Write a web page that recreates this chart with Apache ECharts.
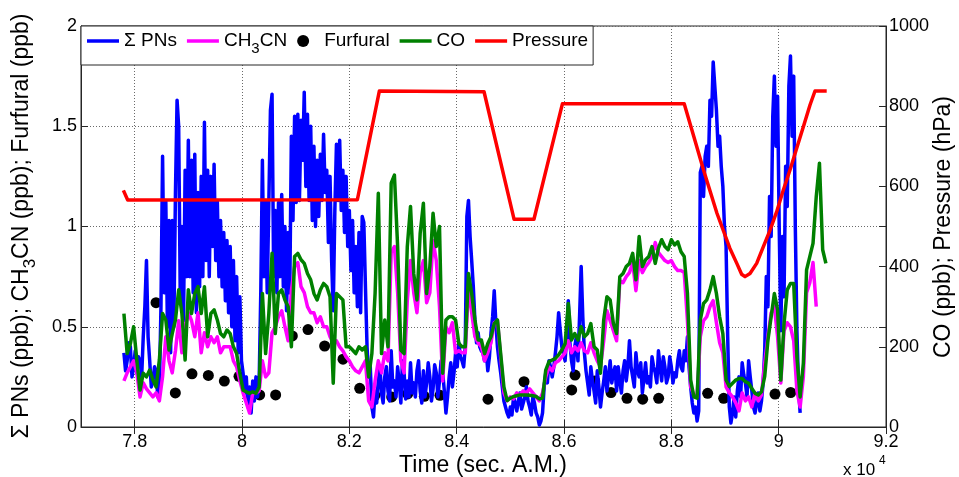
<!DOCTYPE html>
<html>
<head>
<meta charset="utf-8">
<script src="https://cdn.jsdelivr.net/npm/echarts@6/dist/echarts.min.js"></script>
<style>
  html, body { margin: 0; padding: 0; background: #fff; }
  #chart { width: 959px; height: 477px; }
</style>
</head>
<body>
<div id="chart"></div>
<script>
// Records start at 77800 s; Σ PNs every 30 s, CH3CN and CO every 60 s
const T0 = 77800;
const DT_PNS = 30;
const DT = 60;

// Σ PNs (ppb), 30-s values
const pnsPpb = [
  0.37, 0.28, 0.33, 0.42, 0.40, 0.25, 0.30, 0.38, 0.27, 0.35, 0.33, 0.25, 0.45, 0.60, 0.83, 0.45, 0.33, 0.20, 0.23, 0.30, 0.28, 0.15, 0.18, 0.60,
  1.35, 0.67, 1.13, 0.50, 1.03, 0.37, 1.03, 0.50, 1.17, 1.63, 1.50, 0.63, 1.00, 0.53, 1.28, 0.75, 1.43, 0.75, 1.33, 0.67, 1.36, 0.57,
  1.17, 0.70, 1.25, 0.75, 1.52, 0.83, 1.28, 0.75, 1.25, 0.90, 1.31, 0.83, 1.13, 0.75, 1.03, 0.70, 0.97, 0.63, 0.93, 0.57, 0.90, 0.50, 0.83, 0.43, 0.75, 0.37,
  0.65, 0.33, 0.27, 0.17, 0.25, 0.10, 0.20, 0.07, 0.23, 0.13, 0.25, 0.15, 0.23, 0.67, 1.33, 0.75, 1.13, 0.67, 1.12, 1.58,
  1.66, 0.75, 1.08, 0.67, 1.12, 0.75, 1.16, 0.70, 1.00, 0.58, 0.97, 0.67, 1.45, 1.03, 1.55, 1.12, 1.56, 1.13, 1.53, 1.33,
  1.67, 1.20, 1.56, 1.13, 1.50, 1.03, 1.40, 1.00, 1.33, 1.05, 1.36, 1.13, 1.46, 1.17, 1.28, 0.92, 1.25, 0.83, 0.58, 1.08,
  1.41, 1.13, 1.43, 1.08, 1.28, 0.97, 1.25, 0.90, 1.08, 0.78, 1.03, 0.67, 0.90, 0.60, 0.97, 0.57,
  1.05, 1.02, 0.70, 0.40, 0.25, 0.30, 0.10, 0.05, 0.18, 0.12, 0.23, 0.30, 0.17, 0.12, 0.25, 0.30, 0.18, 0.13, 0.38, 0.20,
  0.23, 0.15, 0.30, 0.22, 0.12, 0.33, 0.27, 0.14, 0.23, 0.15, 0.32, 0.17, 0.22, 0.15, 0.28, 0.33, 0.18, 0.12, 0.28, 0.15,
  0.22, 0.32, 0.25, 0.13, 0.19, 0.31, 0.27, 0.15, 0.23, 0.33, 0.27, 0.18, 0.07, 0.15, 0.25, 0.32, 0.20, 0.27, 0.37, 0.30,
  0.42, 0.35, 0.33, 0.30, 0.40, 1.05, 1.13, 0.95, 0.83, 0.70, 0.53, 0.42, 0.47, 0.40, 0.38, 0.37,
  0.33, 0.38, 0.28, 0.35, 0.47, 0.55, 0.68, 0.52, 0.40, 0.33, 0.27, 0.20, 0.13, 0.10, 0.07, 0.05, 0.10, 0.06, 0.15, 0.12,
  0.08, 0.13, 0.17, 0.09, 0.12, 0.15, 0.20, 0.13, 0.10, 0.06, 0.15, 0.12, 0.07, 0.05, 0.01, 0.03, 0.07, 0.20, 0.27, 0.22,
  0.33, 0.30, 0.25, 0.30, 0.37, 0.45, 0.57, 0.48, 0.40, 0.37, 0.33, 0.45, 0.63, 0.42, 0.33, 0.28, 0.40, 0.45, 0.33, 0.55,
  0.80, 0.55, 0.37, 0.28, 0.22, 0.16, 0.30, 0.23, 0.18, 0.12, 0.28, 0.20, 0.10, 0.17, 0.23, 0.30,
  0.18, 0.25, 0.33, 0.22, 0.27, 0.30, 0.18, 0.30, 0.23, 0.17, 0.28, 0.33, 0.23, 0.30, 0.43, 0.30, 0.25, 0.20, 0.37, 0.28,
  0.25, 0.32, 0.17, 0.24, 0.32, 0.22, 0.25, 0.20, 0.35, 0.30, 0.27, 0.22, 0.38, 0.30, 0.23, 0.35, 0.30, 0.22, 0.25, 0.35,
  0.30, 0.22, 0.27, 0.25, 0.33, 0.38, 0.30, 0.28, 0.38, 0.33, 0.45, 0.30, 0.20, 0.12, 0.07, 0.10, 0.03, 0.08, 1.27, 1.30,
  1.15, 1.35, 1.40, 1.30, 1.63, 1.55, 1.82, 1.70, 1.58, 1.40, 1.45, 1.30, 1.20, 1.00, 0.90, 0.45,
  0.10, 0.02, 0.07, 0.15, 0.05, 0.18, 0.25, 0.15, 0.32, 0.26, 0.22, 0.15, 0.33, 0.25, 0.18, 0.10, 0.07, 0.12, 0.17, 0.08,
  0.13, 0.22, 0.38, 0.75, 0.60, 1.15, 0.95, 1.55, 1.75, 1.40, 1.65, 1.00, 0.48, 0.95, 0.65, 1.30, 1.10, 1.70, 1.85, 1.45,
  1.75, 1.00, 0.48, 0.20, 0.07
];

// CH3CN (ppb), 60-s values
const ch3cnPpb = [
  0.23, 0.27, 0.30, 0.33, 0.27, 0.15, 0.22, 0.19, 0.17, 0.15, 0.17, 0.13, 0.25, 0.45, 0.33, 0.27, 0.38, 0.53, 0.37, 0.50, 0.57, 0.53, 0.45, 0.57, 0.37, 0.47, 0.40, 0.45, 0.42, 0.45, 0.37, 0.40, 0.40, 0.40, 0.33, 0.30,
  0.23, 0.17, 0.12, 0.07, 0.17, 0.17, 0.18, 0.33, 0.25, 0.27, 0.47, 0.50, 0.55, 0.58, 0.50, 0.43, 0.68, 0.80, 0.82, 0.70, 0.67, 0.60, 0.57, 0.57, 0.52, 0.55, 0.50, 0.50, 0.45, 0.42, 0.43, 0.40, 0.38, 0.35, 0.33, 0.30, 0.28, 0.27,
  0.30, 0.33, 0.13, 0.10, 0.23, 0.33, 0.27, 0.37, 0.33, 0.87, 0.90, 0.67, 0.33, 0.27, 0.63, 0.83, 0.67, 0.57, 0.77, 0.83, 0.62, 0.67, 0.93, 0.83, 0.60, 0.23, 0.50, 0.47, 0.52, 0.37, 0.38, 0.37, 0.37, 0.70, 0.57, 0.45, 0.42, 0.40,
  0.33, 0.37, 0.42, 0.52, 0.53, 0.35, 0.17, 0.13, 0.15, 0.14, 0.17, 0.16, 0.18, 0.17, 0.19, 0.17, 0.15, 0.13, 0.17, 0.25, 0.30, 0.28, 0.32, 0.33, 0.35, 0.37, 0.43, 0.37, 0.40, 0.38, 0.42, 0.38, 0.37, 0.42, 0.37, 0.33, 0.30, 0.43,
  0.58, 0.53, 0.48, 0.43, 0.73, 0.72, 0.75, 0.77, 0.82, 0.68, 0.83, 0.77, 0.80, 0.82, 0.85, 0.92, 0.87, 0.85, 0.83, 0.82, 0.83, 0.80, 0.78, 0.78, 0.77, 0.53, 0.20, 0.16, 0.15, 0.45, 0.53, 0.55, 0.60, 0.63, 0.52, 0.42, 0.37, 0.20,
  0.17, 0.15, 0.12, 0.08, 0.17, 0.13, 0.15, 0.10, 0.17, 0.13, 0.16, 0.32, 0.45, 0.57, 0.60, 0.45, 0.22, 0.48, 0.52, 0.50, 0.43, 0.18, 0.10, 0.25, 0.67, 0.72, 0.82, 0.60
];

// CO (ppb), right axis, 60-s values
const coPpb = [
  283, 183, 208, 250, 167, 92, 134, 125, 142, 117, 100, 167, 283, 267, 192, 233, 267, 342, 283, 167, 342, 283, 333, 350, 283, 350, 225, 283, 292, 267, 233, 225, 242, 233, 200, 183,
  134, 92, 88, 84, 88, 84, 100, 333, 183, 283, 433, 233, 333, 342, 317, 300, 200, 425, 433, 417, 408, 383, 367, 333, 317, 342, 358, 350, 325, 109, 333, 325, 317, 200, 200, 192, 183, 200,
  192, 200, 125, 183, 333, 583, 183, 267, 200, 608, 628, 450, 192, 183, 450, 550, 383, 317, 483, 558, 333, 400, 533, 450, 500, 134, 267, 275, 275, 267, 208, 200, 200, 383, 333, 267, 217, 217,
  183, 208, 225, 258, 267, 183, 100, 66, 72, 76, 78, 80, 80, 80, 79, 78, 76, 70, 72, 142, 163, 167, 171, 180, 192, 208, 308, 217, 233, 217, 250, 225, 233, 258, 200, 192, 134, 267,
  325, 317, 258, 233, 375, 383, 400, 408, 433, 367, 475, 400, 417, 425, 450, 408, 446, 467, 450, 442, 467, 454, 462, 437, 425, 333, 117, 75, 72, 267, 308, 317, 342, 375, 333, 275, 233, 117,
  101, 109, 117, 121, 121, 113, 109, 96, 84, 80, 88, 126, 217, 275, 333, 292, 117, 258, 342, 358, 358, 175, 75, 159, 392, 425, 458, 574, 658, 442, 408
];

// Furfural grab samples
const furfuralTime = [78398, 78758, 79068, 79373, 79671, 79944, 80329, 80627, 80938, 81230, 81540, 81882, 82193, 82478, 82789, 83087, 83398, 83689, 84584, 85255, 86143, 86205, 86572, 86876, 87174, 87466, 87764, 88677, 88975, 89932, 90224];
const furfuralPpb  = [0.62, 0.17, 0.265, 0.257, 0.229, 0.253, 0.16, 0.16, 0.454, 0.486, 0.404, 0.338, 0.193, 0.158, 0.15, 0.165, 0.153, 0.158, 0.139, 0.226, 0.185, 0.259, 0.23, 0.172, 0.143, 0.139, 0.143, 0.168, 0.143, 0.164, 0.172];

// Static pressure (hPa), right axis
const pressureTime = [77790, 77870, 82150, 82560, 84510, 85070, 85440, 85970, 88240, 88420, 88600, 88850, 89090, 89220, 89310, 89373, 89466, 89590, 89715, 89840, 89963, 90087, 90211, 90336, 90460, 90584, 90677, 90895];
const pressureHPa  = [590, 566, 567, 838, 836, 518, 518, 806, 806, 724, 641, 533, 446, 408, 381, 375, 383, 408, 450, 491, 537, 591, 641, 695, 749, 803, 838, 838];

// Time axis ticks (s)
const timeTicks = [78000, 80000, 82000, 84000, 86000, 88000, 90000, 92000];

const FONT = "'Liberation Sans', Arial, Helvetica, sans-serif";
const AXIS = '#262626';
const GRID = '#6a6a6a';
const LINE_W = 3.5;
// legend swatch for the line series: a flat bar as thick as the plotted lines
const LINE_ICON = 'path://M0,0H32V3.5H0Z';

const sampled = (vals, dt) => vals.map((v, i) => [T0 + i * dt, v]);
const zipped = (ts, vs) => ts.map((t, i) => [t, vs[i]]);

const lineSeries = (name, data, color, yIdx) => ({
  name, type: 'line', xAxisIndex: 0, yAxisIndex: yIdx, data,
  symbol: 'none', showSymbol: false, silent: true,
  lineStyle: { color, width: LINE_W, join: 'round', opacity: 1 },
  itemStyle: { color, opacity: 1 }
});

const chart = echarts.init(document.getElementById('chart'), null, { renderer: 'canvas' });

chart.setOption({
  animation: false,
  backgroundColor: '#fff',
  grid: { left: 81, right: 73, top: 26, bottom: 50, show: true, borderColor: AXIS, borderWidth: 1, backgroundColor: 'transparent', containLabel: false },
  xAxis: [
    {
      type: 'value', min: 77000, max: 92000, position: 'bottom',
      axisLine: { show: true, onZero: false, lineStyle: { color: AXIS, width: 1 } },
      axisTick: { show: true, inside: true, length: 7, customValues: timeTicks, lineStyle: { color: AXIS } },
      axisLabel: { customValues: timeTicks, formatter: v => String(+(v / 1e4).toFixed(1)), fontSize: 18, fontFamily: FONT, color: '#000', margin: 6 },
      splitLine: { show: true, lineStyle: { color: GRID, type: [1, 2], width: 1 } }
    },
    {
      type: 'value', min: 77000, max: 92000, position: 'top',
      axisLine: { show: false },
      axisTick: { show: true, inside: true, length: 7, customValues: timeTicks, lineStyle: { color: AXIS } },
      axisLabel: { show: false },
      splitLine: { show: false }
    }
  ],
  yAxis: [
    {
      type: 'value', min: 0, max: 2, interval: 0.5, position: 'left',
      axisLine: { show: true, lineStyle: { color: AXIS, width: 1 } },
      axisTick: { show: true, inside: true, length: 7, lineStyle: { color: AXIS } },
      axisLabel: { fontSize: 18, fontFamily: FONT, color: '#000', margin: 4, formatter: v => String(v) },
      splitLine: { show: true, lineStyle: { color: GRID, type: [1, 2], width: 1 } }
    },
    {
      type: 'value', min: 0, max: 1000, interval: 200, position: 'right',
      axisLine: { show: true, lineStyle: { color: AXIS, width: 1 } },
      axisTick: { show: true, inside: true, length: 7, lineStyle: { color: AXIS } },
      axisLabel: { fontSize: 18, fontFamily: FONT, color: '#000', margin: 3, formatter: v => String(v) },
      splitLine: { show: false }
    },
    {
      type: 'value', min: 0, max: 2, interval: 0.5, position: 'right',
      axisLine: { show: false },
      axisTick: { show: true, inside: true, length: 7, lineStyle: { color: AXIS } },
      axisLabel: { show: false },
      splitLine: { show: false }
    }
  ],
  legend: {
    left: 81, top: 26, orient: 'horizontal',
    itemWidth: 32, itemHeight: 12, itemGap: 10,
    padding: [3, 5, 9, 6],
    backgroundColor: '#fff', borderColor: AXIS, borderWidth: 1, borderRadius: 0,
    selectedMode: false,
    data: [
      { name: 'Σ PNs', icon: LINE_ICON, itemStyle: { color: '#0000ff', opacity: 1, borderWidth: 0 } },
      { name: 'CH3CN', icon: LINE_ICON, itemStyle: { color: '#ff00ff', opacity: 1, borderWidth: 0 } },
      { name: 'Furfural', icon: 'circle', itemStyle: { color: '#000', opacity: 1, borderWidth: 0 } },
      { name: 'CO', icon: LINE_ICON, itemStyle: { color: '#008000', opacity: 1, borderWidth: 0 } },
      { name: 'Pressure', icon: LINE_ICON, itemStyle: { color: '#ff0000', opacity: 1, borderWidth: 0 } }
    ],
    formatter: name => name === 'CH3CN' ? '{n|CH}{s|3}{n|CN}' : '{n|' + name + '}',
    textStyle: {
      fontSize: 19, fontFamily: FONT, color: '#000',
      rich: {
        n: { fontSize: 19, lineHeight: 24, fontFamily: FONT, color: '#000' },
        s: { fontSize: 15, lineHeight: 1, verticalAlign: 'top', padding: [12, 0, 0, 0], fontFamily: FONT, color: '#000' }
      }
    }
  },
  graphic: [
    {
      type: 'text', x: 22, y: 226, rotation: Math.PI / 2, silent: true,
      style: {
        text: '{n|Σ PNs (ppb); CH}{s|3}{n|CN (ppb); Furfural (ppb)}',
        align: 'center', verticalAlign: 'middle', textAlign: 'center', textVerticalAlign: 'middle',
        fill: '#000',
        rich: {
          n: { fontSize: 23, lineHeight: 28, fontFamily: FONT, fill: '#000' },
          s: { fontSize: 17, lineHeight: 1, verticalAlign: 'top', padding: [14, 0, 0, 0], fontFamily: FONT, fill: '#000' }
        }
      }
    },
    {
      type: 'text', x: 944, y: 227, rotation: Math.PI / 2, silent: true,
      style: {
        text: 'CO (ppb); Pressure (hPa)', fontSize: 23, fontFamily: FONT, fill: '#000',
        align: 'center', verticalAlign: 'middle', textAlign: 'center', textVerticalAlign: 'middle'
      }
    },
    {
      type: 'text', x: 483, y: 466, silent: true,
      style: {
        text: 'Time (sec. A.M.)', fontSize: 23, fontFamily: FONT, fill: '#000',
        align: 'center', verticalAlign: 'middle', textAlign: 'center', textVerticalAlign: 'middle'
      }
    },
    {
      type: 'text', x: 843, y: 470, silent: true,
      style: { text: 'x 10', fontSize: 17, fontFamily: FONT, fill: '#000', align: 'left', verticalAlign: 'middle', textAlign: 'left', textVerticalAlign: 'middle' }
    },
    {
      type: 'text', x: 879, y: 461, silent: true,
      style: { text: '4', fontSize: 12, fontFamily: FONT, fill: '#000', align: 'left', verticalAlign: 'middle', textAlign: 'left', textVerticalAlign: 'middle' }
    }
  ],
  series: [
    lineSeries('Σ PNs', sampled(pnsPpb, DT_PNS), '#0000ff', 0),
    lineSeries('CH3CN', sampled(ch3cnPpb, DT), '#ff00ff', 0),
    {
      name: 'Furfural', type: 'scatter', xAxisIndex: 0, yAxisIndex: 0,
      data: zipped(furfuralTime, furfuralPpb),
      symbol: 'circle', symbolSize: 11, silent: true,
      itemStyle: { color: '#000', opacity: 1, borderWidth: 0 }
    },
    lineSeries('CO', sampled(coPpb, DT), '#008000', 1),
    lineSeries('Pressure', zipped(pressureTime, pressureHPa), '#ff0000', 1)
  ]
});
</script>
</body>
</html>
